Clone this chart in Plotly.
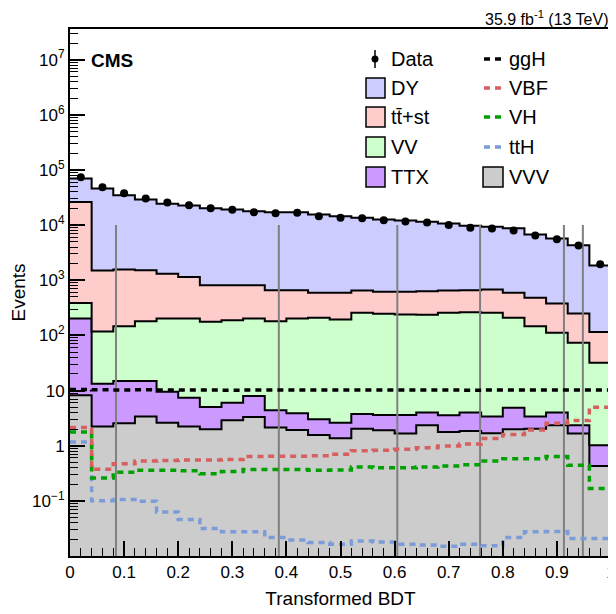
import numpy as np
import plotly.graph_objects as go

# ---------------- data ----------------
bin_edges = [round(0.04 * i, 2) for i in range(26)]

dy  = [43400, 44490, 33230, 27580, 22990, 21460, 19385, 18385, 17085, 16438, 16438, 15006, 13906,
       12947, 11981, 11481, 10865, 10047, 9038, 8619, 8206, 6278, 5340, 4069, 1735]
ttst = [26000, 1392, 1423, 1339, 1107, 937, 638, 626, 612, 481, 459, 385, 399,
        395, 372, 379, 398, 395, 398, 423, 385, 335, 268, 177, 83]
vv  = [185, 104.7, 132, 166, 193, 196, 172, 183, 195, 177, 199, 206, 192,
       254, 243, 236, 233, 254, 260, 255, 204, 144, 108, 71.5, 31]
ttx = [194.8, 11.08, 12.35, 11.53, 6.93, 5.21, 3.04, 3.15, 4.64, 2.25, 1.94, 1.45, 1.26,
       1.71, 1.70, 1.94, 1.64, 1.79, 2.13, 1.69, 2.92, 1.33, 1.64, 0.68, 0.59]
vvv = [8.2, 2.22, 2.55, 3.37, 2.62, 2.22, 1.98, 2.88, 3.31, 2.13, 1.92, 1.56, 1.36,
       2.04, 1.90, 1.66, 2.34, 1.77, 1.85, 1.68, 1.98, 2.04, 2.34, 1.66, 0.43]

data = [73800, 48600, 37800, 30300, 25700, 22900, 20200, 18900, 17100, 16400, 16700, 14500, 13600,
        13300, 12300, 11600, 11100, 10100, 8930, 8670, 7980, 6480, 5560, 4270, 1960]

ggh = [10.5, 10.3, 10.2, 10.3, 10.2, 10.2, 10.2, 10.1, 10.2, 10.2, 10.2, 10.2, 10.2,
       10.2, 10.2, 10.2, 10.2, 10.2, 10.1, 10.2, 10.2, 10.2, 10.2, 10.2, 10.2]
vbf = [2.13, 0.373, 0.47, 0.53, 0.54, 0.55, 0.55, 0.56, 0.635, 0.645, 0.645, 0.655, 0.70,
       0.81, 0.83, 0.86, 0.92, 0.99, 1.07, 1.35, 1.60, 1.92, 2.55, 2.85, 5.0]
vh  = [1.77, 0.26, 0.33, 0.36, 0.36, 0.35, 0.31, 0.34, 0.37, 0.37, 0.37, 0.36, 0.363,
       0.41, 0.40, 0.40, 0.41, 0.43, 0.45, 0.53, 0.58, 0.58, 0.64, 0.44, 0.167]
tth = [1.17, 0.10, 0.106, 0.098, 0.063, 0.046, 0.0315, 0.0274, 0.0274, 0.0216, 0.0196, 0.0175, 0.0164,
       0.0188, 0.018, 0.0164, 0.0159, 0.015, 0.0164, 0.0153, 0.0216, 0.0274, 0.0277, 0.0208, 0.0208]

category_bounds = [0.085, 0.386, 0.605, 0.758, 0.913, 0.948]

stack_names = ["VVV", "TTX", "VV", "tt̄+st", "DY"]
stack_colors = ["#cccccc", "#cc99ff", "#ccffcc", "#ffcccc", "#ccccff"]
sig_names = ["ggH", "VBF", "VH", "ttH"]
sig_colors = ["#000000", "#d65f5f", "#00a000", "#7b9bd9"]

# ---------------- figure ----------------
FONT = "Liberation Sans, Arial, Helvetica, sans-serif"
edges = np.array(bin_edges)
centers = (edges[:-1] + edges[1:]) / 2
ymin, ymax = 0.01, 3.6e7

def step_y(vals):
    v = list(vals)
    return v + [v[-1]]

fig = go.Figure()

# baseline (below axis range)
fig.add_trace(go.Scatter(x=edges, y=[1e-4] * len(edges), mode="lines", line=dict(width=0, shape="hv"),
                         showlegend=False, hoverinfo="skip"))
cum = np.zeros(len(dy))
for comp, col in zip([vvv, ttx, vv, ttst, dy], stack_colors):
    cum = cum + np.array(comp, dtype=float)
    fig.add_trace(go.Scatter(x=edges, y=step_y(cum), mode="lines",
                             line=dict(color="black", width=2, shape="hv"),
                             fill="tonexty", fillcolor=col, showlegend=False))

# category boundary lines
for xb in category_bounds:
    fig.add_trace(go.Scatter(x=[xb, xb], y=[ymin, 1e4], mode="lines",
                             line=dict(color="#808080", width=2), showlegend=False))

# signals
for vals, col in zip([tth, vh, vbf, ggh], sig_colors[::-1]):
    fig.add_trace(go.Scatter(x=edges, y=step_y(vals), mode="lines",
                             line=dict(color=col, width=3.5, shape="hv", dash="6px,5px"),
                             showlegend=False))

# data
fig.add_trace(go.Scatter(x=centers, y=data, mode="markers",
                         marker=dict(color="black", size=8), showlegend=False))

# ---------------- axes ----------------
# page body has an 8px margin; the figure is sized so the frame lands at x 70..611, y 29..556
OFF = 8
W, H = 608, 606
L, R, T, B = 70 - OFF, 5, 29 - OFF, 58
pw, ph = W - L - R, H - T - B

ytv = [10.0 ** k for k in range(-1, 8)]
ytt = ["10<sup>−1</sup>", "1", "10"] + ["10<sup>%d</sup>" % k for k in range(2, 8)]
yminor = [m * 10.0 ** k for k in range(-2, 8) for m in range(2, 10)]

fig.update_xaxes(range=[0, 1], showline=True, linewidth=2, linecolor="black", mirror=True,
                 automargin=False,
                 ticks="inside", ticklen=15, tickwidth=1.5, tickcolor="black",
                 tickvals=[round(0.1 * i, 1) for i in range(11)],
                 ticktext=["0", "0.1", "0.2", "0.3", "0.4", "0.5", "0.6", "0.7", "0.8", "0.9", "1"],
                 minor=dict(ticks="inside", ticklen=8, tickwidth=1.2, tickcolor="black", dtick=0.02, showgrid=False),
                 showgrid=False, zeroline=False,
                 tickfont=dict(family=FONT, size=17, color="black"),
                 title=dict(text="Transformed BDT", font=dict(family=FONT, size=19, color="black"), standoff=10))
fig.update_yaxes(type="log", range=[np.log10(ymin), np.log10(ymax)], showline=True, linewidth=2,
                 linecolor="black", mirror=True, automargin=False,
                 ticks="inside", ticklen=15, tickwidth=1.5, tickcolor="black",
                 tickvals=ytv, ticktext=ytt,
                 minor=dict(ticks="inside", ticklen=8, tickwidth=1.2, tickcolor="black", tickvals=yminor, showgrid=False),
                 showgrid=False, zeroline=False,
                 tickfont=dict(family=FONT, size=17, color="black"),
                 title=dict(text="Events", font=dict(family=FONT, size=19, color="black"), standoff=4))

# ---------------- legend (manual) ----------------
def px(x):
    return (x - OFF - L) / pw

def py(y):
    return (H - B - (y - OFF)) / ph

shapes = []
annotations = []
rows = [59, 88, 117, 147, 177]
# column 1
shapes.append(dict(type="line", xref="paper", yref="paper", x0=px(375), x1=px(375), y0=py(50), y1=py(68),
                   line=dict(color="black", width=1.5)))
shapes.append(dict(type="circle", xref="paper", yref="paper", x0=px(371.5), x1=px(378.5), y0=py(62.5), y1=py(55.5),
                   fillcolor="black", line=dict(color="black", width=0)))
col1_labels = ["Data", "DY", "tt̄+st", "VV", "TTX"]
col1_fill = [None, "#ccccff", "#ffcccc", "#ccffcc", "#cc99ff"]
for yy, lab, fc in zip(rows, col1_labels, col1_fill):
    if fc:
        shapes.append(dict(type="rect", xref="paper", yref="paper", x0=px(366), x1=px(385), y0=py(yy + 10), y1=py(yy - 10),
                           fillcolor=fc, line=dict(color="black", width=1.5)))
    annotations.append(dict(xref="paper", yref="paper", x=px(389), y=py(yy), text=lab, showarrow=False,
                            xanchor="left", yanchor="middle", font=dict(family=FONT, size=20, color="black")))
# column 2
col2_labels = sig_names + ["VVV"]
for i, (yy, lab) in enumerate(zip(rows, col2_labels)):
    if i < 4:
        shapes.append(dict(type="line", xref="paper", yref="paper", x0=px(484), x1=px(501), y0=py(yy), y1=py(yy),
                           line=dict(color=sig_colors[i], width=3.5, dash="6px,5px")))
    else:
        shapes.append(dict(type="rect", xref="paper", yref="paper", x0=px(483), x1=px(503), y0=py(yy + 10), y1=py(yy - 10),
                           fillcolor="#cccccc", line=dict(color="black", width=1.5)))
    annotations.append(dict(xref="paper", yref="paper", x=px(507), y=py(yy), text=lab, showarrow=False,
                            xanchor="left", yanchor="middle", font=dict(family=FONT, size=20, color="black")))

annotations.append(dict(xref="paper", yref="paper", x=px(89), y=py(60), text="<b>CMS</b>", showarrow=False,
                        xanchor="left", yanchor="middle", font=dict(family=FONT, size=19, color="black")))
annotations.append(dict(xref="paper", yref="paper", x=1.0, y=py(18), text="35.9 fb<sup>-1</sup> (13 TeV)",
                        showarrow=False, xanchor="right", yanchor="middle",
                        font=dict(family=FONT, size=16, color="black")))

fig.update_layout(width=W, height=H, margin=dict(l=L, r=R, t=T, b=B),
                  paper_bgcolor="white", plot_bgcolor="white", showlegend=False,
                  shapes=shapes, annotations=annotations)

fig.write_html("out.html")
